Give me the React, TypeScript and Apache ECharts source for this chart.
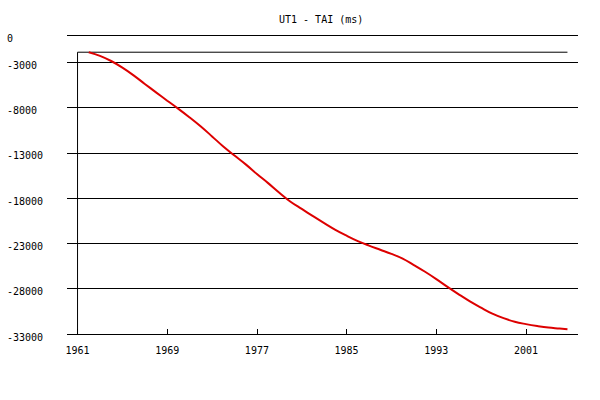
import React, { useEffect, useRef } from "react";
import * as echarts from "echarts";

const TITLE = "UT1 - TAI (ms)";
const years = [
  1962, 1963, 1964, 1965, 1966, 1967, 1968, 1969, 1970, 1971, 1972, 1973, 1974, 1975,
  1976, 1977, 1978, 1979, 1980, 1981, 1982, 1983, 1984, 1985, 1986, 1987, 1988, 1989,
  1990, 1991, 1992, 1993, 1994, 1995, 1996, 1997, 1998, 1999, 2000, 2001, 2002, 2003,
  2004, 2004.7,
];
const ut1MinusTai = [
  -1900, -2300, -2870, -3600, -4450, -5400, -6330, -7250, -8150, -9100, -10100, -11190,
  -12310, -13300, -14280, -15340, -16350, -17410, -18400, -19200, -19990, -20760, -21500,
  -22150, -22750, -23250, -23700, -24150, -24680, -25390, -26130, -26940, -27800, -28620,
  -29400, -30100, -30750, -31250, -31650, -31910, -32120, -32290, -32390, -32470,
];
const xTickYears = [1961, 1969, 1977, 1985, 1993, 2001];
const yTickValues = [0, -3000, -8000, -13000, -18000, -23000, -28000, -33000];
const X_MIN = 1960.06;
const X_MAX = 2005.64;
const Y_MIN = -33000;
const Y_MAX = 0;

const FONT = "DejaVu Sans Mono";

export default function App() {
  const ref = useRef<HTMLDivElement>(null);
  useEffect(() => {
    if (!ref.current) return;
    const chart = echarts.init(ref.current, undefined, { renderer: "svg" });
    const data = years.map((y, i) => [y, ut1MinusTai[i]]);
    const top = Math.max(...ut1MinusTai);
    const lastYear = years[years.length - 1];
    const frameLeft = xTickYears[0];
    chart.setOption({
      animation: false,
      backgroundColor: "#ffffff",
      title: {
        text: TITLE,
        left: 279,
        top: 14,
        padding: 0,
        textStyle: { fontFamily: FONT, fontSize: 10, fontWeight: "normal", color: "#000" },
      },
      grid: { left: 67, right: 22, top: 35, bottom: 66 },
      xAxis: {
        type: "value",
        position: "bottom",
        min: X_MIN,
        max: X_MAX,
        axisLine: { show: false, onZero: false },
        splitLine: { show: false },
        axisTick: {
          show: true,
          inside: true,
          length: 5,
          customValues: xTickYears,
          lineStyle: { color: "#000", width: 1 },
        },
        axisLabel: {
          customValues: xTickYears,
          margin: 11,
          fontFamily: FONT,
          fontSize: 10,
          color: "#000",
          formatter: (v: number) => String(Math.round(v)),
        },
      },
      yAxis: {
        type: "value",
        min: Y_MIN,
        max: Y_MAX,
        axisLine: { show: false },
        axisTick: { show: false, customValues: yTickValues },
        splitLine: { show: true, lineStyle: { color: "#000", width: 1 } },
        axisLabel: {
          customValues: yTickValues,
          align: "left",
          verticalAlign: "top",
          lineHeight: 6,
          margin: 60,
          fontFamily: FONT,
          fontSize: 10,
          color: "#000",
          formatter: (v: number) => String(v),
        },
      },
      series: [
        {
          type: "line",
          data: [
            [lastYear, top],
            [frameLeft, top],
            [frameLeft, Y_MIN],
          ],
          showSymbol: false,
          silent: true,
          lineStyle: { color: "#000", width: 1 },
          z: 2,
        },
        {
          type: "line",
          data,
          smooth: 0.4,
          showSymbol: false,
          lineStyle: { color: "#dd0000", width: 2 },
          z: 3,
        },
      ],
    });
    return () => chart.dispose();
  }, []);
  return (
    <div
      ref={ref}
      style={{ width: 600, height: 400, position: "absolute", left: 0, top: 0 }}
    />
  );
}
